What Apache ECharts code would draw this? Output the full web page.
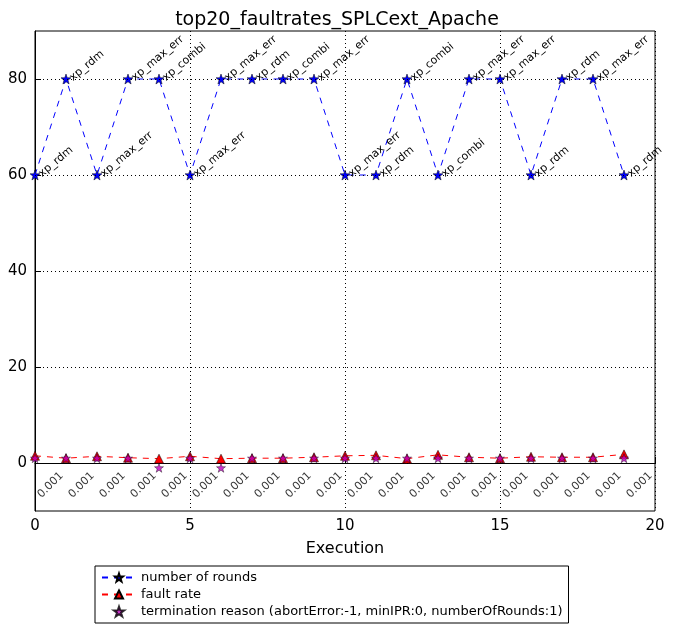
<!DOCTYPE html>
<html><head><meta charset="utf-8">
<script src="https://cdn.jsdelivr.net/npm/echarts@6/dist/echarts.min.js"></script>
<style>body{margin:0}#c{width:674px;height:643px}</style></head>
<body><div id="c"></div>
<script>
const executions = [0,1,2,3,4,5,6,7,8,9,10,11,12,13,14,15,16,17,18,19];
const rounds = [60,80,60,80,80,60,80,80,80,80,60,60,80,60,80,80,60,80,80,60];
const strategies = ['xp_rdm','xp_rdm','xp_max_err','xp_max_err','xp_combi','xp_max_err','xp_max_err','xp_rdm','xp_combi','xp_max_err','xp_max_err','xp_rdm','xp_combi','xp_combi','xp_max_err','xp_max_err','xp_rdm','xp_rdm','xp_max_err','xp_rdm'];
const faultRate = [1.5,1.0,1.4,1.1,0.9,1.4,0.9,1.0,1.0,1.2,1.5,1.6,0.9,1.7,1.2,1.0,1.3,1.2,1.2,1.8];
const termination = [1,1,1,1,-1,1,-1,1,1,1,1,1,1,1,1,1,1,1,1,1];
const faultLabels = executions.map(()=> '0.001');

const font = 'DejaVu Sans';
const star = 'path://M0,-10L2.35,-3.24L9.51,-3.09L3.8,1.24L5.88,8.09L0,4L-5.88,8.09L-3.8,1.24L-9.51,-3.09L-2.35,-3.24Z';
const chart = echarts.init(document.getElementById('c'));
chart.setOption({
  animation:false,
  textStyle:{fontFamily:font},
  title:{text:'top20_faultrates_SPLCext_Apache',left:'center',top:6,textStyle:{fontFamily:font,fontSize:19,fontWeight:'normal',color:'#000'}},
  grid:{left:35,right:19,top:31,bottom:132,show:true,borderColor:'#000',borderWidth:1,backgroundColor:'transparent'},
  xAxis:{type:'value',min:0,max:20,interval:5,name:'Execution',nameLocation:'middle',nameGap:30,
    nameTextStyle:{fontSize:16,color:'#000'},
    axisLine:{lineStyle:{color:'#000'}},axisTick:{inside:true,length:6,lineStyle:{color:'#000'}},
    axisLabel:{color:'#000',fontSize:15,margin:8},
    splitLine:{show:true,lineStyle:{color:'#000',type:[1,3]}}},
  yAxis:{type:'value',min:-10,max:90,interval:20,
    axisLine:{lineStyle:{color:'#000'}},
    axisLabel:{color:'#000',fontSize:15,customValues:[0,20,40,60,80]},
    axisTick:{inside:true,length:6,customValues:[0,20,40,60,80],lineStyle:{color:'#000'}},
    splitLine:{show:false}},
  legend:{orient:'vertical',left:95,top:566,width:499,borderColor:'#000',borderWidth:1,padding:[5,6,5,6],itemGap:4,
    textStyle:{fontSize:13,color:'#000'},itemWidth:34,itemHeight:10,
    data:[
      {name:'number of rounds',itemStyle:{color:'#0000ff'}},
      {name:'fault rate',itemStyle:{color:'#ff0000'}},
      {name:'termination reason (abortError:-1, minIPR:0, numberOfRounds:1)',itemStyle:{color:'#bf00bf'}}]},
  series:[
    {type:'line',markLine:{silent:true,symbol:'none',label:{show:false},lineStyle:{color:'#000',type:[1,3],width:1},data:[{yAxis:0},{yAxis:20},{yAxis:40},{yAxis:60},{yAxis:80}]}, data:[]},
    {name:'number of rounds',type:'line',data:executions.map((x,i)=>[x,rounds[i]]),
      symbol:star,symbolSize:10,itemStyle:{color:'#0000ff',borderColor:'#000',borderWidth:0.5},
      lineStyle:{color:'#0000ff',type:[6,6],width:1},
      label:{show:true,formatter:p=>strategies[p.dataIndex],position:'right',distance:0,rotate:40,fontSize:11,color:'#000',padding:[0,0,0,0]}},
    {name:'fault rate',type:'line',z:3,data:executions.map((x,i)=>[x,faultRate[i]]),
      symbol:'triangle',symbolSize:9,itemStyle:{color:'#ff0000',borderColor:'#000',borderWidth:0.5},
      lineStyle:{color:'#ff0000',type:[6,6],width:1}},
    {name:'termination reason (abortError:-1, minIPR:0, numberOfRounds:1)',type:'scatter',z:5,data:executions.map((x,i)=>[x,termination[i]]),
      symbol:star,symbolSize:9,itemStyle:{color:'#bf00bf',borderColor:'#000',borderWidth:0.5}},
    {type:'scatter',silent:true,symbolSize:0,data:executions.map((x,i)=>[x+0.5,-4.6]),
      label:{show:true,position:'inside',rotate:45,formatter:p=>faultLabels[p.dataIndex],fontSize:11,color:'#000'}}
  ]
});
</script></body></html>
